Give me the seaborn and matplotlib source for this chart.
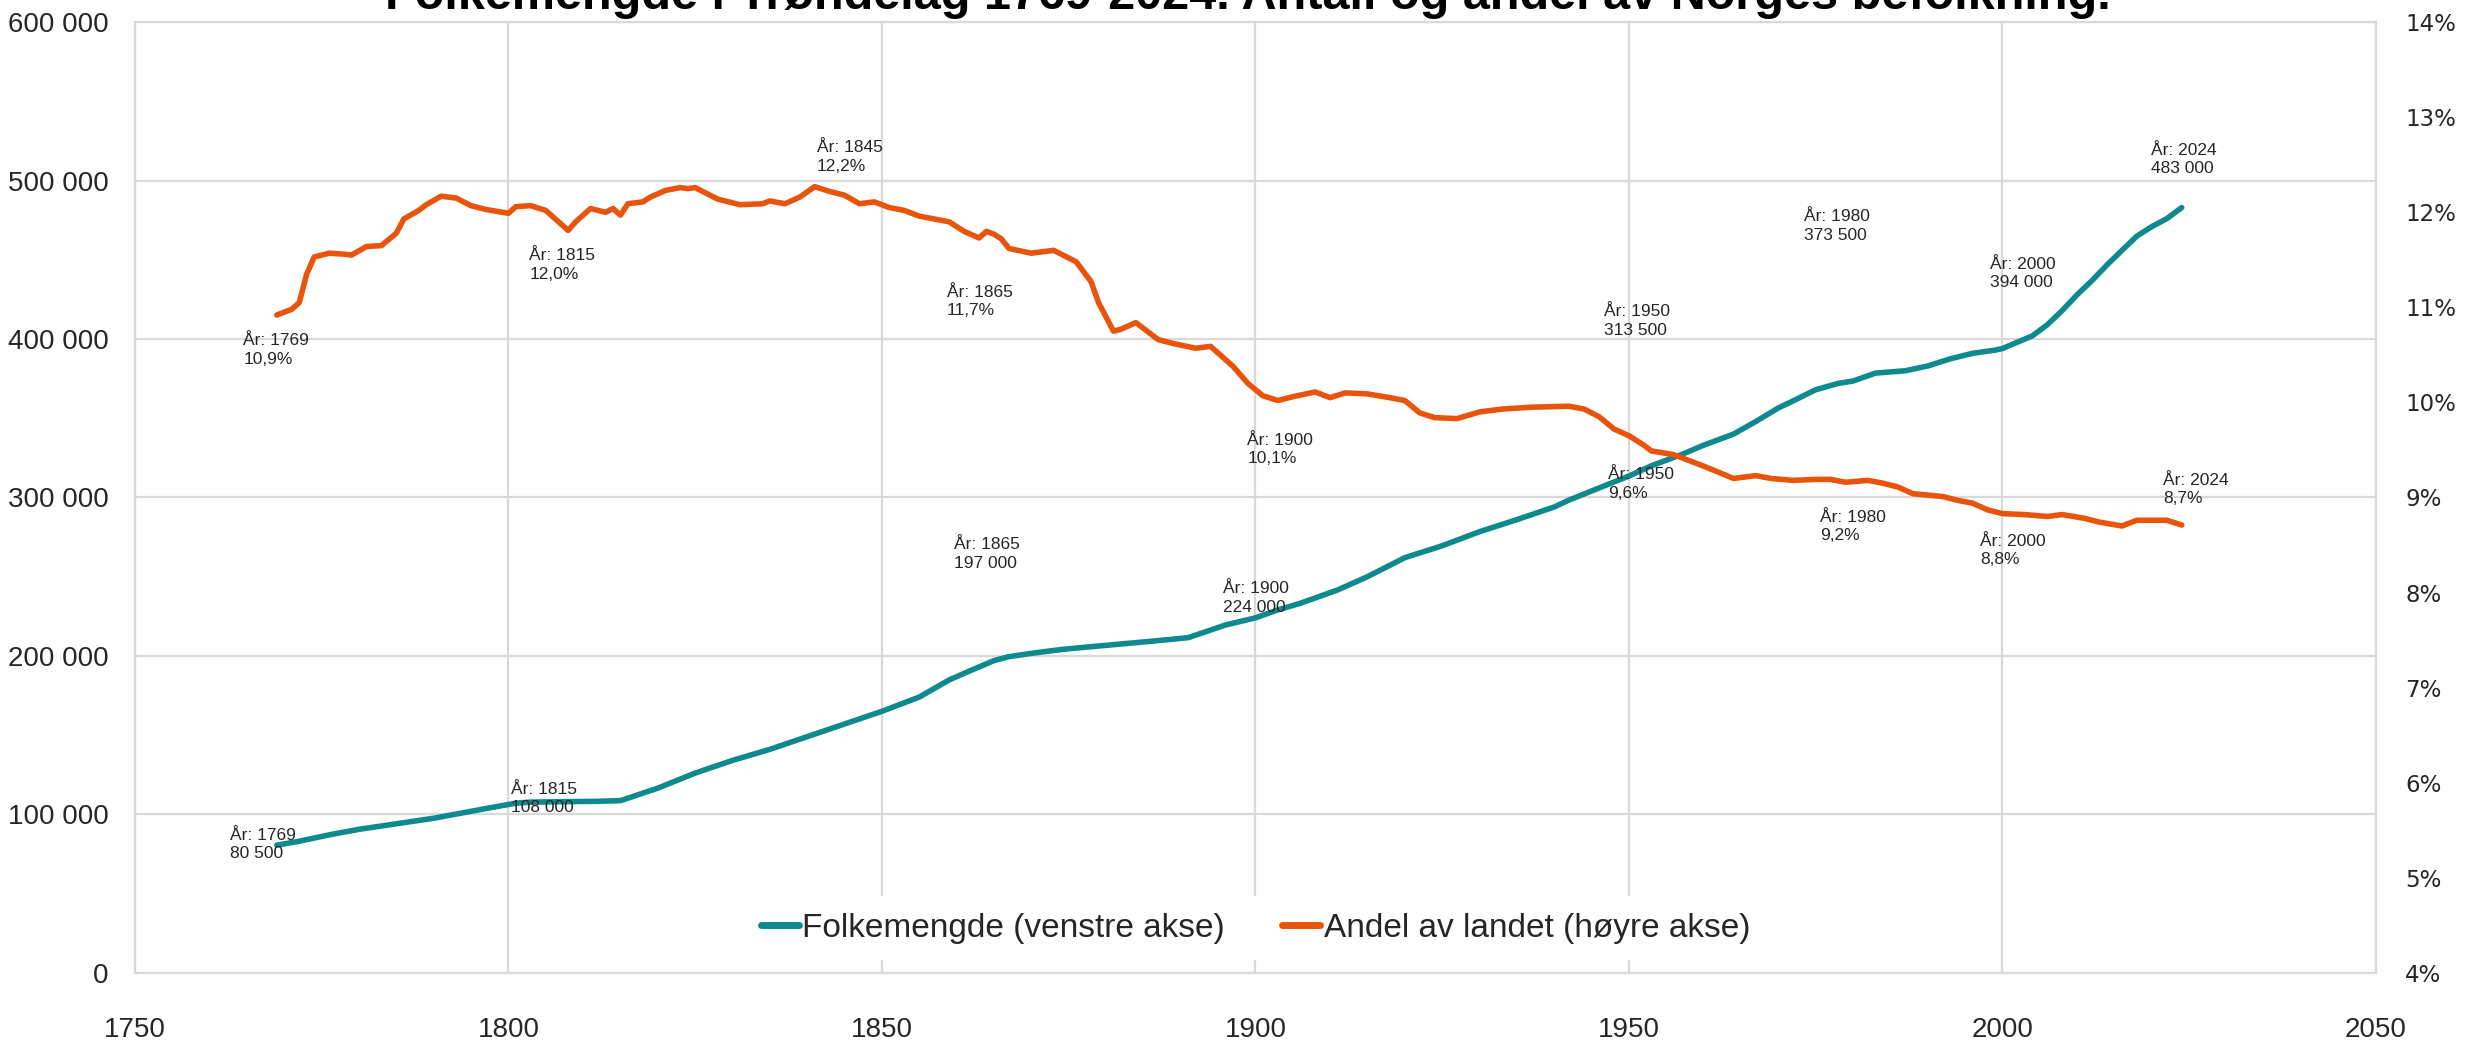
import matplotlib
matplotlib.use("Agg")
import matplotlib.pyplot as plt
from matplotlib.lines import Line2D
import pandas as pd
import seaborn as sns

# Folkemengde i Trøndelag (venstre akse)
pop_years = [1769, 1772, 1776, 1780, 1785, 1790, 1794, 1798, 1801, 1803, 1808, 1812,
             1815, 1820, 1825, 1830, 1835, 1840, 1845, 1850, 1855, 1859, 1862, 1865,
             1867, 1870, 1874, 1878, 1882, 1886, 1891, 1896, 1900, 1903, 1906, 1911,
             1915, 1920, 1925, 1930, 1935, 1940, 1942, 1946, 1950, 1953, 1957, 1960,
             1964, 1967, 1970, 1972, 1975, 1978, 1980, 1983, 1987, 1990, 1993, 1996,
             1999, 2000, 2004, 2006, 2008, 2010, 2012, 2014, 2016, 2018, 2020, 2022, 2024]
pop_values = [80500, 83000, 87000, 90500, 94000, 97500, 101000, 104500, 107000, 107700,
              108000, 108200, 108600, 116500, 126000, 134000, 141000, 149000, 157000,
              165000, 174000, 184800, 191000, 197000, 199500, 201600, 204000, 205800,
              207500, 209200, 211500, 219500, 224000, 229000, 233200, 241600, 250000,
              262000, 269500, 278400, 286000, 294000, 298400, 306000, 313500, 320000,
              327000, 333000, 340000, 348000, 356500, 361000, 368000, 372000, 373500,
              378500, 380000, 383000, 387500, 391000, 393000, 394000, 402000, 409000,
              418000, 428000, 437000, 446800, 456000, 465000, 471000, 476000, 483000]

# Andel av Norges befolkning i prosent (høyre akse)
share_years = [1769, 1771, 1772, 1773, 1774, 1776, 1778, 1779, 1781, 1783, 1785, 1786,
               1788, 1789, 1791, 1793, 1795, 1797, 1800, 1801, 1803, 1805, 1807, 1808,
               1809, 1811, 1812, 1813, 1814, 1815, 1816, 1818, 1819, 1821, 1823, 1824,
               1825, 1826, 1828, 1831, 1834, 1835, 1837, 1839, 1841, 1843, 1845, 1847,
               1849, 1851, 1853, 1855, 1857, 1859, 1861, 1863, 1864, 1865, 1866, 1867,
               1870, 1873, 1876, 1878, 1879, 1880, 1881, 1882, 1884, 1887, 1889, 1892,
               1894, 1897, 1899, 1901, 1903, 1905, 1908, 1910, 1912, 1915, 1918, 1920,
               1922, 1924, 1927, 1930, 1933, 1937, 1942, 1944, 1946, 1948, 1950, 1952,
               1953, 1956, 1960, 1964, 1967, 1969, 1972, 1975, 1977, 1979, 1982, 1984,
               1986, 1988, 1992, 1994, 1996, 1998, 2000, 2003, 2006, 2008, 2011, 2013,
               2016, 2018, 2022, 2024]
share_values = [10.92, 10.98, 11.05, 11.35, 11.53, 11.57, 11.56, 11.55, 11.64, 11.65,
                11.78, 11.93, 12.02, 12.08, 12.17, 12.15, 12.07, 12.03, 11.99, 12.06,
                12.07, 12.02, 11.88, 11.81, 11.90, 12.04, 12.02, 12.00, 12.04, 11.97,
                12.09, 12.11, 12.16, 12.23, 12.26, 12.25, 12.26, 12.22, 12.14, 12.08,
                12.09, 12.12, 12.09, 12.16, 12.27, 12.22, 12.18, 12.09, 12.11, 12.05,
                12.02, 11.96, 11.93, 11.90, 11.80, 11.73, 11.80, 11.77, 11.72, 11.62,
                11.57, 11.60, 11.48, 11.27, 11.05, 10.90, 10.75, 10.77, 10.84, 10.66,
                10.62, 10.57, 10.59, 10.38, 10.20, 10.07, 10.02, 10.06, 10.11, 10.05,
                10.10, 10.09, 10.05, 10.02, 9.89, 9.84, 9.83, 9.90, 9.93, 9.95, 9.96,
                9.93, 9.85, 9.72, 9.65, 9.55, 9.49, 9.45, 9.33, 9.20, 9.23, 9.20, 9.18,
                9.19, 9.19, 9.16, 9.18, 9.15, 9.11, 9.04, 9.01, 8.97, 8.94, 8.87, 8.83,
                8.82, 8.80, 8.82, 8.78, 8.74, 8.70, 8.76, 8.76, 8.71]

# Dataetiketter
pop_label_years = [1769, 1815, 1865, 1900, 1950, 1980, 2000, 2024]
pop_label_values = [80500, 108000, 197000, 224000, 313500, 373500, 394000, 483000]
share_label_years = [1769, 1815, 1845, 1865, 1900, 1950, 1980, 2000, 2024]
share_label_values = [10.9, 12.0, 12.2, 11.7, 10.1, 9.6, 9.2, 8.8, 8.7]

# plassering av etikettene (øvre venstre hjørne)
pop_label_pos = [(1762.8, 91500), (1800.4, 120500), (1859.6, 275000), (1895.7, 247000),
                 (1946.7, 422000), (1973.5, 482000), (1998.3, 452000), (2019.9, 524000)]
share_label_pos = [(1764.5, 10.73), (1802.8, 11.62), (1841.3, 12.76), (1858.7, 11.24),
                   (1898.9, 9.68), (1947.2, 9.32), (1975.6, 8.87), (1997.0, 8.62),
                   (2021.5, 9.26)]

title = "Folkemengde i Trøndelag 1769-2024. Antall og andel av Norges befolkning."

TEAL = "#0E8A8E"
ORANGE = "#E8540C"
GRID = "#D9D9D9"
TXT = "#262626"

sns.set_theme(style="white")
plt.rcParams["font.family"] = ["Liberation Sans", "DejaVu Sans"]

df_pop = pd.DataFrame({"År": pop_years, "Folkemengde": pop_values})
df_share = pd.DataFrame({"År": share_years, "Andel": share_values})

fig = plt.figure(figsize=(24.84, 10.44), dpi=100)
ax = fig.add_axes([0.0543, 0.0683, 0.9022, 0.9104])
ax2 = ax.twinx()

sns.lineplot(data=df_pop, x="År", y="Folkemengde", ax=ax, color=TEAL, lw=4)
sns.lineplot(data=df_share, x="År", y="Andel", ax=ax2, color=ORANGE, lw=4)

ax.set_xlim(1750, 2050)
ax.set_ylim(0, 600000)
ax2.set_ylim(4, 14)

ax.set_xticks(range(1750, 2051, 50))
ax.set_yticks(range(0, 600001, 100000))
ax.set_yticklabels([f"{v:,}".replace(",", " ") for v in range(0, 600001, 100000)])
ax2.set_yticks(range(4, 15))
ax2.set_yticklabels([f"{t}%" for t in range(4, 15)])

ax.set_xlabel("")
ax.set_ylabel("")
ax2.set_ylabel("")

ax.grid(True, color=GRID, lw=1.6)
ax2.grid(False)
for sp in ax.spines.values():
    sp.set_color(GRID)
    sp.set_linewidth(1.6)
for sp in ax2.spines.values():
    sp.set_visible(False)

ax.tick_params(axis="both", length=0, labelsize=20, colors=TXT)
ax.tick_params(axis="x", pad=32)
ax.tick_params(axis="y", pad=19)
ax2.tick_params(axis="y", length=0, pad=21, labelsize=16.5, colors=TXT)
for lab in ax2.get_yticklabels():
    lab.set_family("DejaVu Sans")

# etiketter
for yr, v, (px, py) in zip(pop_label_years, pop_label_values, pop_label_pos):
    txt = f"År: {yr}\n" + f"{v:,}".replace(",", " ")
    ax.text(px, py, txt, ha="left", va="top", fontsize=12.5, color=TXT,
            linespacing=1.3, zorder=5)
for yr, v, (px, py) in zip(share_label_years, share_label_values, share_label_pos):
    txt = f"År: {yr}\n" + f"{v:.1f}%".replace(".", ",")
    ax2.text(px, py, txt, ha="left", va="top", fontsize=12.5, color=TXT,
             linespacing=1.3, zorder=5)

handles = [Line2D([], [], color=TEAL, lw=5), Line2D([], [], color=ORANGE, lw=5)]
leg = ax2.legend(handles, ["Folkemengde (venstre akse)", "Andel av landet (høyre akse)"],
                 loc="center", bbox_to_anchor=(0.500, 0.047), ncol=2, frameon=True,
                 framealpha=1, facecolor="white", edgecolor="none", fontsize=24,
                 handlelength=1.15, handletextpad=0.1, columnspacing=1.7, borderpad=0.5)
for t in leg.get_texts():
    t.set_color(TXT)

# tittelen er kuttet i toppen, som i originalen
fig.text(0.5022, 1 - 9 / 1044, title, ha="center", va="baseline", fontsize=35,
         fontweight="bold", color="black")

fig.savefig("out.png", dpi=100, facecolor="white")
